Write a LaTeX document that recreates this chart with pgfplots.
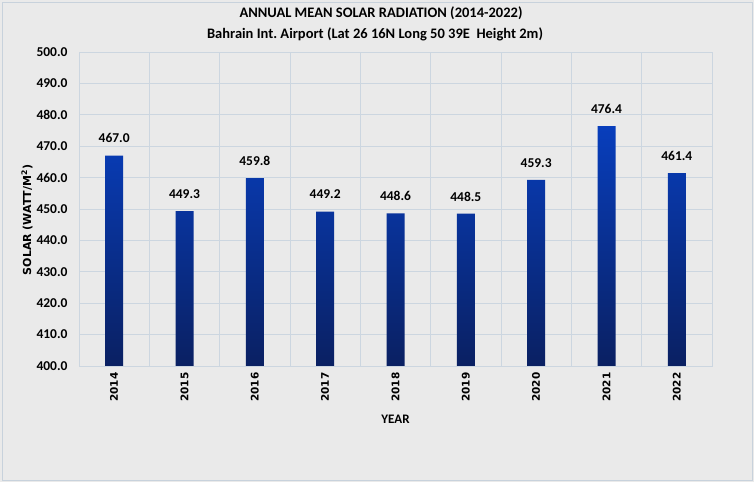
\documentclass[border=0pt]{standalone}
\usepackage{fontspec}
\setmainfont{Carlito}
\newfontfamily\dejavu{DejaVu Sans}
\usepackage{pgfplots}
\pgfplotsset{compat=1.18}
\frenchspacing
\definecolor{bgc}{RGB}{234,234,234}
\definecolor{gridc}{RGB}{204,214,224}
\definecolor{borderc}{RGB}{200,210,220}
\definecolor{bartop}{RGB}{8,62,188}
\definecolor{barbot}{RGB}{10,32,98}
\pgfplotstableread{
x y
0 467.0
1 449.3
2 459.8
3 449.2
4 448.6
5 448.5
6 459.3
7 476.4
8 461.4
}\solar
\begin{document}
\begin{tikzpicture}
\fill[bgc] (0,0) rectangle (754bp,482bp);
\draw[borderc, line width=0.8bp] (2bp,2bp) rectangle (752bp,480bp);
\useasboundingbox (0,0) rectangle (754bp,482bp);
\begin{axis}[
  at={(79bp,116bp)}, anchor=south west,
  scale only axis, width=633bp, height=314bp,
  xmin=-0.5, xmax=8.5, ymin=400, ymax=500,
  ytick={400,410,...,500},
  xtick={0,...,8},
  xticklabels={2014,2015,2016,2017,2018,2019,2020,2021,2022},
  minor xtick={-0.5,0.5,...,8.5},
  xminorgrids=true, ymajorgrids=true,
  grid style={draw=gridc, line width=0.7bp},
  minor grid style={draw=gridc, line width=0.7bp},
  major tick length=0pt, minor tick length=0pt,
  axis line style={draw=gridc, line width=0.7bp},
  /pgf/number format/assume math mode=true,
  yticklabel style={/pgf/number format/.cd, fixed, fixed zerofill, precision=1, /tikz/.cd,
    font=\fontsize{13.5bp}{15bp}\selectfont\bfseries, xshift=-8bp},
  xticklabel style={rotate=90, anchor=east, font=\dejavu\fontsize{10.5bp}{12bp}\selectfont\bfseries, xshift=-3bp},
  xlabel={YEAR},
  xlabel style={font=\fontsize{13bp}{15bp}\selectfont\bfseries, yshift=-6bp},
]
\addplot[ybar, bar width=18bp, bar shift=0pt, draw=none, top color=bartop, bottom color=barbot,
  nodes near coords,
  nodes near coords style={/pgf/number format/.cd, fixed, fixed zerofill, precision=1, assume math mode=true, /tikz/.cd,
    font=\fontsize{13.5bp}{15bp}\selectfont\bfseries, text=black, yshift=9bp}]
  table[x=x, y=y] {\solar};
\end{axis}
\node[rotate=90, font=\dejavu\fontsize{11bp}{12bp}\selectfont\bfseries] at (27bp,262bp) {SOLAR (WATT/M\textsuperscript{2})};
\node[font=\fontsize{14.5bp}{16bp}\selectfont\bfseries] at (381bp,469bp) {ANNUAL MEAN SOLAR RADIATION (2014-2022)};
\node[font=\fontsize{14.5bp}{16bp}\selectfont\bfseries] at (375bp,448bp) {Bahrain Int. Airport (Lat 26 16N Long 50 39E\ \ Height 2m)};
\end{tikzpicture}
\end{document}
